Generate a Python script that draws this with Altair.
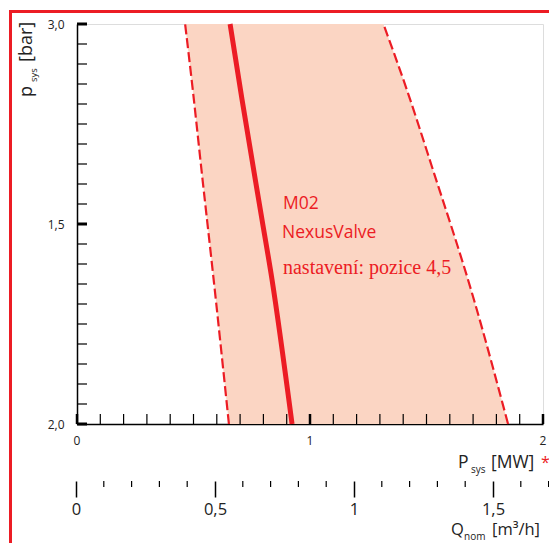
import altair as alt
import pandas as pd

# ---------------- data ----------------
# vertical position: 0 = bottom tick "2,0", 1 = top tick "3,0"
band_y = [0.0, 0.31, 0.6475, 0.835, 1.0]
band_left = [0.652, 0.596, 0.532, 0.497, 0.464]     # P_sys [MW]
band_right = [1.850, 1.704, 1.521, 1.416, 1.315]    # P_sys [MW]
valve_y = [0.0, 0.361, 0.511, 0.812, 1.0]
valve_x = [0.923, 0.837, 0.794, 0.708, 0.657]       # P_sys [MW]

y_tick_values = [0.0, 0.5, 1.0]
y_tick_labels = ["2,0", "1,5", "3,0"]
y_minor = [0.0, 0.05, 0.1, 0.15, 0.2, 0.25, 0.3, 0.35, 0.4, 0.45, 0.5,
           0.55, 0.6, 0.65, 0.7, 0.75, 0.8, 0.85, 0.9, 0.95, 1.0]

p_major = [0, 1, 2]
p_labels = ["0", "1", "2"]
p_minor = [0.1, 0.2, 0.3, 0.4, 0.5, 0.6, 0.7, 0.8, 0.9,
           1.1, 1.2, 1.3, 1.4, 1.5, 1.6, 1.7, 1.8, 1.9]

q_major = [0, 0.5, 1, 1.5]
q_minor = [0.1, 0.2, 0.3, 0.4, 0.6, 0.7, 0.8, 0.9,
           1.1, 1.2, 1.3, 1.4, 1.6, 1.7]

labels_text = ["M02", "NexusValve", "nastavení: pozice 4,5"]
labels_x = [0.884, 0.880, 0.884]
labels_y = [0.5375, 0.465, 0.375]

RED = "#ec1c24"
FILL = "#fbd5c3"
INK = "#222222"
SANS = "Open Sans"

band_df = pd.DataFrame({"y": band_y, "left": band_left, "right": band_right})
valve_df = pd.DataFrame({"y": valve_y, "x": valve_x})

xs = alt.Scale(domain=[0, 2], nice=False, zero=False)
ys = alt.Scale(domain=[0, 1], nice=False, zero=False)

y_expr = " : ".join(
    f"datum.value == {v} ? '{l}'" for v, l in zip(y_tick_values[:-1], y_tick_labels[:-1])
) + f" : '{y_tick_labels[-1]}'"

xaxis = alt.Axis(values=p_major, labels=False, ticks=False, grid=False, title=None,
                 domainColor="black", domainWidth=1.5)
yaxis = alt.Axis(values=y_tick_values, labelExpr=y_expr, ticks=False, grid=False,
                 title=None, domainColor="black", domainWidth=1.5, labelFontSize=12,
                 labelFont=SANS, labelColor=INK, labelPadding=13, labelBaseline="middle",
                 labelOverlap=False, labelBound=False, labelFlush=False)


def X(f):
    return alt.X(f"{f}:Q", scale=xs, axis=xaxis)


def Y(f):
    return alt.Y(f"{f}:Q", scale=ys, axis=yaxis)


area = alt.Chart(band_df).mark_area(orient="horizontal", color=FILL, opacity=1,
                                    interpolate="monotone").encode(
    y=Y("y"), x=X("left"), x2="right"
)
left_line = alt.Chart(band_df).mark_line(color=RED, strokeWidth=2.2, strokeDash=[10, 4],
                                         interpolate="monotone").encode(
    x=X("left"), y=Y("y"), order="y:Q"
)
right_line = alt.Chart(band_df).mark_line(color=RED, strokeWidth=2.2, strokeDash=[10, 4],
                                          interpolate="monotone").encode(
    x=X("right"), y=Y("y"), order="y:Q"
)
valve = alt.Chart(valve_df).mark_line(color=RED, strokeWidth=5, interpolate="monotone").encode(
    x=X("x"), y=Y("y"), order="y:Q"
)

ytm = alt.Chart(pd.DataFrame({"y": y_minor})).mark_rule(color="black", strokeWidth=1.2).encode(
    y=Y("y"), x=alt.value(0), x2=alt.value(10)
)
ytM = alt.Chart(pd.DataFrame({"y": y_tick_values})).mark_rule(color="black", strokeWidth=3).encode(
    y=Y("y"), x=alt.value(0), x2=alt.value(10)
)
xtm = alt.Chart(pd.DataFrame({"x": p_minor})).mark_rule(color="black", strokeWidth=1.2).encode(
    x=X("x"), y=alt.value(400), y2=alt.value(390)
)
xtM = alt.Chart(pd.DataFrame({"x": p_major})).mark_rule(color="black", strokeWidth=2.5).encode(
    x=X("x"), y=alt.value(400), y2=alt.value(390)
)
xlab = alt.Chart(pd.DataFrame({"x": p_major, "t": p_labels})).mark_text(
    align="center", baseline="top", font=SANS, fontSize=12, color=INK
).encode(x=X("x"), y=alt.value(412), text="t:N")

lab_df = pd.DataFrame({"t": labels_text, "x": labels_x, "y": labels_y})
ann_sans = alt.Chart(lab_df.iloc[:2]).mark_text(
    align="left", baseline="alphabetic", color=RED, font=SANS, fontSize=17.5
).encode(x=X("x"), y=Y("y"), text="t:N")
ann_serif = alt.Chart(lab_df.iloc[2:]).mark_text(
    align="left", baseline="alphabetic", color=RED, font="Liberation Serif", fontSize=20
).encode(x=X("x"), y=Y("y"), text="t:N")


def txt(s, x, y, size, color=INK, angle=0):
    return alt.Chart(pd.DataFrame({"t": [s]})).mark_text(
        align="left", baseline="alphabetic", font=SANS, fontSize=size, color=color, angle=angle
    ).encode(x=alt.value(x), y=alt.value(y), text="t:N")


titles = [
    txt("p", -45, 73, 18, angle=270),
    txt("sys", -40.5, 58, 9.5, angle=270),
    txt("[bar]", -45, 38, 18, angle=270),
    txt("P", 381, 444, 17.5),
    txt("sys", 394, 449, 10),
    txt("[MW]", 414, 444, 17.5),
    txt("*", 464, 444, 16, color=RED),
    txt("Q", 374, 511, 16.5),
    txt("nom", 387, 515.5, 10),
    txt("[m³/h]", 415, 511, 16.5),
]

border_left = alt.Chart(pd.DataFrame({"a": [0]})).mark_rule(color=RED, strokeWidth=3).encode(
    x=alt.value(-66.5), y=alt.value(-14), y2=alt.value(600)
)
border_top = alt.Chart(pd.DataFrame({"a": [0]})).mark_rule(color=RED, strokeWidth=3).encode(
    y=alt.value(-12.5), x=alt.value(-68), x2=alt.value(600)
)

p_layer = alt.layer(area, left_line, right_line, valve, ytm, ytM, xtm, xtM, xlab,
                    ann_sans, ann_serif, *titles, border_left, border_top)

# second (flow) axis
qs = alt.Scale(domain=[0, 1.5], range=[-1, 416], nice=False, zero=False)
qaxis = alt.Axis(orient="bottom", offset=57, values=q_major, domain=False, ticks=True,
                 tickSize=16, tickWidth=1.5, tickColor="black", grid=False, title=None,
                 labelExpr="replace(toString(datum.value), '.', ',')",
                 labelFontSize=16.5, labelFont=SANS, labelColor=INK, labelPadding=4,
                 labelOverlap=False, labelBound=False, labelFlush=False)
q_major_chart = alt.Chart(pd.DataFrame({"q": q_major})).mark_rule(opacity=0).encode(
    x=alt.X("q:Q", scale=qs, axis=qaxis), y=alt.value(457), y2=alt.value(458)
)
q_minor_chart = alt.Chart(pd.DataFrame({"q": q_minor})).mark_rule(color="black", strokeWidth=1.2).encode(
    x=alt.X("q:Q", scale=qs, axis=qaxis), y=alt.value(457), y2=alt.value(463)
)
q_layer = alt.layer(q_major_chart, q_minor_chart)

chart = alt.layer(p_layer, q_layer).resolve_scale(x="independent").resolve_axis(
    x="independent"
).properties(
    width=466, height=400,
    autosize=alt.AutoSizeParams(type="none"),
    padding={"left": 69, "top": 16, "right": 6, "bottom": 119},
).configure_view(stroke=None).configure(background="white")

chart.save("out.html", embed_options={"renderer": "svg", "actions": False})
